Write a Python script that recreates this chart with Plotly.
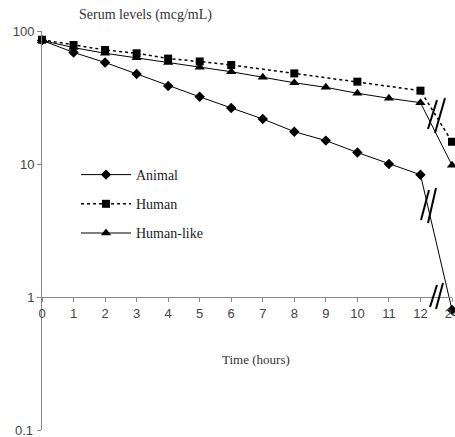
import plotly.graph_objects as go

time_labels = ["0", "1", "2", "3", "4", "5", "6", "7", "8", "9", "10", "11", "12", "24"]
y_tick_vals = [0.1, 1, 10, 100]
y_tick_text = ["0.1", "1", "10", "100"]

animal_x = ["0", "1", "2", "3", "4", "5", "6", "7", "8", "9", "10", "11", "12", "24"]
animal_y = [85, 69, 58, 47.5, 38.6, 32, 26.4, 21.8, 17.5, 15.0, 12.2, 10.0, 8.3, 0.8]

human_x = ["0", "1", "2", "3", "4", "5", "6", "8", "10", "12", "24"]
human_y = [86, 78.5, 72, 68, 62, 59, 55.5, 48, 41.6, 35.6, 14.7]

humanlike_x = ["0", "1", "2", "3", "4", "5", "6", "7", "8", "9", "10", "11", "12", "24"]
humanlike_y = [85, 75, 68, 63, 58, 53.5, 49.4, 44.9, 40.8, 37.7, 34, 31.2, 28.9, 9.8]

serif = "Liberation Serif, Times New Roman, serif"
sans = "Liberation Sans, Arial, sans-serif"

fig = go.Figure()
fig.add_trace(go.Scatter(x=animal_x, y=animal_y, name="Animal", mode="lines+markers",
                         line=dict(color="black", width=1),
                         marker=dict(symbol="diamond", size=8, color="black"),
                         cliponaxis=False, legendgroup="a"))
fig.add_trace(go.Scatter(x=human_x, y=human_y, name="Human", mode="lines+markers",
                         line=dict(color="black", width=1.5, dash="dot"),
                         marker=dict(symbol="square", size=8, color="black"),
                         cliponaxis=False, legendgroup="b"))
fig.add_trace(go.Scatter(x=humanlike_x, y=humanlike_y, name="Human-like", mode="lines+markers",
                         line=dict(color="black", width=1),
                         marker=dict(symbol="triangle-up", size=9, color="black"),
                         cliponaxis=False, legendgroup="c"))

L, R, T, B, W, H = 42, 3, 31, 7, 455, 437
pw, ph = W - L - R, H - T - B


def px(x):
    return (x - L) / pw


def py(y):
    return (H - B - y) / ph


breaks = [
    ((428, 129), (437, 100)), ((435, 133), (445, 98)),
    ((421, 220), (429, 190)), ((428, 223), (436, 188)),
    ((430, 307), (437, 285)), ((436, 309), (443, 283)),
]
shapes = []
for (x0, y0), (x1, y1) in breaks:
    shapes.append(dict(type="line", xref="paper", yref="paper",
                       x0=px(x0), y0=py(y0), x1=px(x1), y1=py(y1),
                       line=dict(color="black", width=2)))

# lowest tick label drawn as an annotation (plotly drops it at the axis end)
shown_text = [t if v != y_tick_vals[0] else "" for v, t in zip(y_tick_vals, y_tick_text)]

fig.update_layout(
    width=W, height=H,
    margin=dict(l=L, r=R, t=T, b=B, autoexpand=False),
    plot_bgcolor="white", paper_bgcolor="white",
    showlegend=True,
    legend=dict(x=px(76), y=py(159), xanchor="left", yanchor="top",
                bgcolor="rgba(0,0,0,0)", font=dict(family=serif, size=14, color="#222"),
                tracegroupgap=8, traceorder="grouped", itemwidth=50),
    xaxis=dict(type="category", categoryorder="array", categoryarray=time_labels,
               range=[0, 13], anchor="free", position=1/3, automargin=False,
               showline=True, linecolor="#888", linewidth=1,
               ticks="outside", ticklen=4, tickcolor="#888",
               showgrid=False, zeroline=False,
               tickfont=dict(family=sans, size=13, color="#444")),
    yaxis=dict(type="log", range=[-1.0, 2.0], automargin=False,
               tickvals=y_tick_vals, ticktext=shown_text,
               showline=True, linecolor="#888", linewidth=1,
               ticks="outside", ticklen=4, tickcolor="#888",
               showgrid=False, zeroline=False,
               tickfont=dict(family=sans, size=13, color="#444")),
    shapes=shapes,
    annotations=[
        dict(text="Serum levels (mcg/mL)", xref="paper", yref="paper",
             x=px(145), y=py(15), xanchor="center", yanchor="middle", showarrow=False,
             font=dict(family=serif, size=14, color="#333")),
        dict(text="Time (hours)", xref="paper", yref="paper",
             x=px(256), y=py(359), xanchor="center", yanchor="middle", showarrow=False,
             font=dict(family=serif, size=13, color="#333")),
        dict(text=y_tick_text[0], xref="paper", yref="paper",
             x=px(35), y=py(430), xanchor="right", yanchor="middle", showarrow=False,
             font=dict(family=sans, size=13, color="#444")),
    ],
)

fig.write_html("out.html", config={"displayModeBar": False},
               post_script="document.body.style.margin='0';document.body.style.overflow='hidden';")
